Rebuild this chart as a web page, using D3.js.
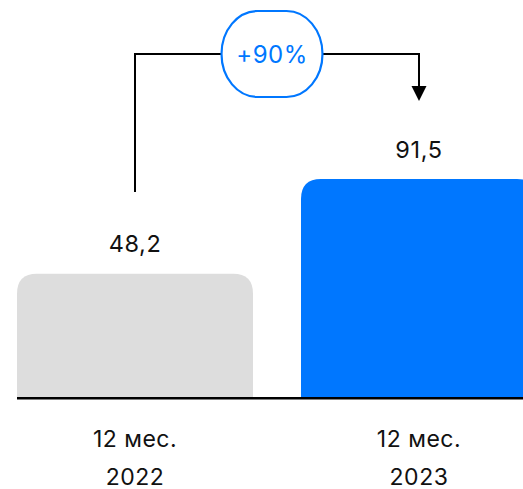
<!DOCTYPE html>
<html><head><meta charset="utf-8">
<script src="https://cdn.jsdelivr.net/npm/d3@7"></script>
<style>html,body{margin:0;padding:0;background:#fff;}svg{display:block;}</style>
</head><body>
<script>
const categories = ["12 мес.|2022", "12 мес.|2023"];
const values = [48.2, 91.5];
const valueLabels = ["48,2", "91,5"];
const colors = ["#dddddd", "#0077ff"];
const changeLabel = "+90%";

const W = 523, H = 489;
const svg = d3.select("body").append("svg").attr("width", W).attr("height", H);
const font = "Inter, 'Noto Sans', sans-serif";

const x = d3.scaleBand().domain(categories).range([17, 537]).paddingInner(0.169).paddingOuter(0);
const y = d3.scaleLinear().domain([-8, 91.5]).range([397, 179]);
const r = 20;

function barPath(x0, w, top, bottom) {
  return `M${x0},${bottom} L${x0},${top + r} Q${x0},${top} ${x0 + r},${top} L${x0 + w - r},${top} Q${x0 + w},${top} ${x0 + w},${top + r} L${x0 + w},${bottom} Z`;
}

svg.selectAll("path.bar").data(values).join("path")
  .attr("class", "bar")
  .attr("d", (d, i) => barPath(x(categories[i]), x.bandwidth(), y(d), y(-8)))
  .attr("fill", (d, i) => colors[i]);

// baseline
svg.append("line").attr("x1", 17).attr("x2", W).attr("y1", 398.2).attr("y2", 398.2)
  .attr("stroke", "#000").attr("stroke-width", 2.5);

// value labels
svg.selectAll("text.val").data(values).join("text")
  .attr("class", "val")
  .attr("x", (d, i) => x(categories[i]) + x.bandwidth() / 2)
  .attr("y", d => y(d) - 21.5)
  .attr("text-anchor", "middle")
  .attr("font-family", font).attr("font-size", 23.5).attr("letter-spacing", 0.6).attr("fill", "#111")
  .text((d, i) => valueLabels[i]);

// category labels
const cat = svg.selectAll("text.cat").data(categories).join("text")
  .attr("class", "cat")
  .attr("text-anchor", "middle")
  .attr("font-family", font).attr("font-size", 23).attr("letter-spacing", 0.5).attr("fill", "#111");
cat.each(function(d) {
  const parts = d.split("|");
  const cx = x(d) + x.bandwidth() / 2;
  d3.select(this).selectAll("tspan").data(parts).join("tspan")
    .attr("x", cx).attr("y", (p, j) => 447 + j * 37.5).text(p => p);
});

// connector
const cx0 = x(categories[0]) + x.bandwidth() / 2;
const cx1 = x(categories[1]) + x.bandwidth() / 2;
const topY = 54;
svg.append("path")
  .attr("d", `M${cx0},${192} L${cx0},${topY} L${cx1},${topY} L${cx1},${88}`)
  .attr("fill", "none").attr("stroke", "#000").attr("stroke-width", 2);
svg.append("path")
  .attr("d", `M${cx1 - 7.5},${86} L${cx1 + 7.5},${86} L${cx1},${101} Z`)
  .attr("fill", "#000");

// pill
const pcx = 272, pw = 101, ph = 86;
svg.append("rect")
  .attr("x", pcx - pw / 2).attr("y", topY - ph / 2)
  .attr("width", pw).attr("height", ph)
  .attr("rx", 36).attr("ry", 43)
  .attr("fill", "#fff").attr("stroke", "#0077ff").attr("stroke-width", 2.2);
svg.append("text")
  .attr("x", pcx).attr("y", 62.5)
  .attr("text-anchor", "middle")
  .attr("font-family", font).attr("font-size", 24).attr("letter-spacing", 0.5).attr("fill", "#0077ff")
  .text(changeLabel);
</script>
</body></html>
